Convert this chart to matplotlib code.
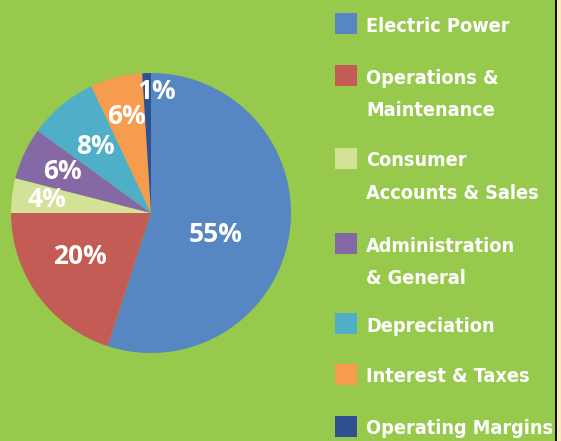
import numpy as np
import matplotlib
matplotlib.use("Agg")
import matplotlib.pyplot as plt
from matplotlib.patches import Rectangle

# Pie data (share of total, %)
categories = ["Electric Power", "Operations &\nMaintenance", "Consumer\nAccounts & Sales",
              "Administration\n& General", "Depreciation", "Interest & Taxes", "Operating Margins"]
shares = [55, 20, 4, 6, 8, 6, 1]
colors = ["#5787C2", "#C45C56", "#D2E297", "#8569A5", "#4FAFC8", "#F79B4E", "#2F5191"]

# where the percent labels sit: radius (fraction of pie) and angle nudge in degrees
label_r = [0.49, 0.595, 0.75, 0.70, 0.62, 0.71, 0.87]
label_nudge = [-9.7, -4.5, 0, 0, 0, 0, -4.6]

bg = "#97C94D"
W, H = 561, 441

fig = plt.figure(figsize=(W / 100, H / 100), dpi=100)
fig.patch.set_facecolor(bg)

# pie: centre (151, 213) px from top-left, radius 140 px
cx, cy, rad = 151, 213, 140
ax = fig.add_axes([(cx - rad) / W, (H - cy - rad) / H, 2 * rad / W, 2 * rad / H])
wedges, _ = ax.pie(shares, colors=colors, startangle=90, counterclock=False,
                   radius=1, wedgeprops=dict(linewidth=0))
ax.set_xlim(-1, 1)
ax.set_ylim(-1, 1)
ax.set_aspect("equal")
ax.axis("off")

for w, s, r, nd in zip(wedges, shares, label_r, label_nudge):
    ang = np.deg2rad((w.theta1 + w.theta2) / 2 + nd)
    ax.text(r * np.cos(ang), r * np.sin(ang), f"{s}%", color="white",
            fontsize=19, fontweight="bold", family=["Open Sans", "DejaVu Sans"],
            ha="center", va="center")

# legend drawn by hand so the square lines up with the first text line
sq_top = [13, 65, 148, 233, 313, 364, 416]
for top, lab, c in zip(sq_top, categories, colors):
    fig.patches.append(Rectangle((335 / W, 1 - (top + 21) / H), 22 / W, 21 / H,
                                 transform=fig.transFigure, facecolor=c,
                                 edgecolor="none"))
    for i, line in enumerate(lab.split("\n")):
        fig.text(366 / W, 1 - (top + 18.5 + 33 * i) / H, line, color="white",
                 fontsize=14.2, fontweight="bold", fontstretch="condensed",
                 family=["DejaVu Sans"],
                 ha="left", va="baseline")

# right-hand frame edge
fig.patches.append(Rectangle((555 / W, 0), 2 / W, 1, transform=fig.transFigure,
                             facecolor="#111111", edgecolor="none"))
fig.patches.append(Rectangle((557 / W, 0), 4 / W, 1, transform=fig.transFigure,
                             facecolor="#FCE9B8", edgecolor="none"))

fig.savefig("out.png", dpi=100, facecolor=bg)
